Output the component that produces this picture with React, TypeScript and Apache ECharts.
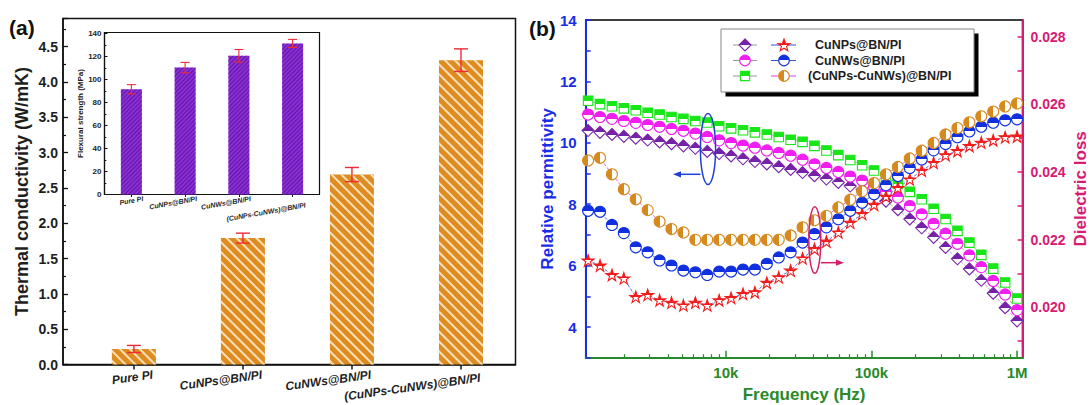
import React, { useEffect, useRef } from 'react';
import * as echarts from 'echarts';

// ---------------- Panel (a): thermal conductivity ----------------
const samples = ['Pure PI', 'CuNPs@BN/PI', 'CuNWs@BN/PI', '(CuNPs-CuNWs)@BN/PI'];
const thermalConductivity = [0.22, 1.79, 2.69, 4.31];
const thermalConductivityErr = [0.05, 0.07, 0.1, 0.16];

// inset: flexural strength (MPa)
const flexuralStrength = [91.6, 110.5, 120.7, 131.5];
const flexuralStrengthErr = [4, 4.5, 5.5, 3.5];

// ---------------- Panel (b): dielectric spectra ----------------
const frequencyHz = [
  1132, 1367, 1651, 1993, 2406, 2905, 3508, 4234, 5111, 6173, 7452, 8997, 10864,
  13117, 15833, 19119, 23082, 27867, 33651, 40616, 49044, 59215, 71498, 86317,
  104210, 125840, 151890, 183360, 221400, 267350, 322850, 389620, 470530, 568060,
  685810, 828310, 1000000,
];
const permittivityCuNPs = [
  10.4, 10.34, 10.27, 10.21, 10.15, 10.09, 10.03, 9.97, 9.9, 9.82, 9.72, 9.65, 9.57,
  9.48, 9.39, 9.31, 9.22, 9.13, 9.03, 8.93, 8.82, 8.71, 8.59, 8.47, 8.34, 8.1, 7.82,
  7.52, 7.23, 6.92, 6.59, 6.22, 5.89, 5.52, 5.1, 4.63, 4.2,
];
const permittivityCuNWs = [
  10.92, 10.84, 10.78, 10.71, 10.65, 10.58, 10.52, 10.45, 10.39, 10.3, 10.19, 10.08,
  9.99, 9.91, 9.84, 9.75, 9.67, 9.58, 9.45, 9.3, 9.18, 9.05, 8.9, 8.77, 8.58, 8.4,
  8.22, 7.94, 7.67, 7.36, 7.04, 6.71, 6.33, 5.95, 5.5, 5.06, 4.55,
];
const permittivityHybrid = [
  11.37, 11.26, 11.19, 11.12, 11.06, 10.98, 10.92, 10.84, 10.78, 10.71, 10.66, 10.54,
  10.47, 10.41, 10.34, 10.27, 10.19, 10.1, 10.03, 9.9, 9.75, 9.6, 9.44, 9.27, 9.1,
  8.88, 8.67, 8.4, 8.16, 7.85, 7.52, 7.13, 6.75, 6.35, 5.9, 5.45, 4.93,
];
const lossCuNPs = [
  0.02138, 0.02123, 0.02095, 0.02085, 0.0203, 0.02036, 0.0202, 0.02013, 0.02005,
  0.02013, 0.02005, 0.0202, 0.02027, 0.02039, 0.02044, 0.02072, 0.02088, 0.02108,
  0.02144, 0.02172, 0.02194, 0.02221, 0.0225, 0.02276, 0.02303, 0.02327, 0.02353,
  0.02378, 0.02404, 0.02427, 0.0245, 0.02462, 0.02477, 0.02487, 0.02494, 0.02503,
  0.02505,
];
const lossCuNWs = [
  0.02285, 0.02282, 0.02243, 0.02219, 0.02177, 0.02162, 0.02138, 0.02123, 0.02108,
  0.02103, 0.02095, 0.02105, 0.02105, 0.02111, 0.02111, 0.02128, 0.02147, 0.02162,
  0.02191, 0.02216, 0.02236, 0.0226, 0.02285, 0.02309, 0.02334, 0.02361, 0.02388,
  0.02412, 0.02437, 0.02464, 0.02483, 0.02503, 0.0252, 0.02534, 0.02546, 0.02553,
  0.02556,
];
const lossHybrid = [
  0.02434, 0.02442, 0.02393, 0.02349, 0.02319, 0.02287, 0.02253, 0.02231, 0.02221,
  0.02199, 0.02199, 0.02199, 0.02199, 0.02199, 0.02199, 0.02199, 0.02199, 0.02212,
  0.02236, 0.02257, 0.0227, 0.02295, 0.02318, 0.02343, 0.02367, 0.02393, 0.02415,
  0.0244, 0.02463, 0.02486, 0.02511, 0.0253, 0.02547, 0.02565, 0.02579, 0.02594,
  0.02603,
];

const freqMajorTicks = [10000, 100000, 1000000];
const freqTickLabels = ['10k', '100k', '1M'];
const freqMinorTicks = [
  2000, 3000, 4000, 5000, 6000, 7000, 8000, 9000,
  20000, 30000, 40000, 50000, 60000, 70000, 80000, 90000,
  200000, 300000, 400000, 500000, 600000, 700000, 800000, 900000,
];
const lossTickValues = [0.019, 0.02, 0.021, 0.022, 0.023, 0.024, 0.025, 0.026, 0.027, 0.028];
const lossLabelValues = [0.02, 0.022, 0.024, 0.026, 0.028];

const legendRows = ['CuNPs@BN/PI', 'CuNWs@BN/PI', '(CuNPs-CuNWs)@BN/PI'];

// ---------------- styling ----------------
const FONT = '"Liberation Sans", Arial, Helvetica, sans-serif';
const COL = {
  ink: '#1e1e1e',
  orange: '#de8b1f',
  violet: '#8a2fd6',
  err: '#ee2a36',
  blueAxis: '#1a2de6',
  pinkAxis: '#d81b72',
  green: '#2a8a2a',
  mDiamond: '#7622a8',
  mMagenta: '#f01ff0',
  mGreen: '#19e619',
  mRed: '#f21c1c',
  mBlue: '#1030e0',
  mOrange: '#d68a1e',
};
const STAR_PATH =
  'path://M50,2 L61.2,36 L97,36 L68,57 L79,92 L50,70.5 L21,92 L32,57 L3,36 L38.8,36 Z';

const half = (color: string, horizontal = false) =>
  new echarts.graphic.LinearGradient(0, 0, horizontal ? 1 : 0, horizontal ? 0 : 1, [
    { offset: 0, color },
    { offset: 0.5, color },
    { offset: 0.5, color: '#ffffff' },
    { offset: 1, color: '#ffffff' },
  ]);

const LABEL_SHIFT_A = 0.174;
const LABEL_SHIFT_INSET = 0.22;

function errorBars(cap: number, width: number) {
  return (_params: any, api: any) => {
    const x = api.value(0);
    const y = api.value(1);
    const e = api.value(2);
    const hi = api.coord([x, y + e]);
    const lo = api.coord([x, y - e]);
    const style = { stroke: COL.err, lineWidth: width, fill: 'none' };
    return {
      type: 'group',
      children: [
        { type: 'line', shape: { x1: hi[0], y1: hi[1], x2: lo[0], y2: lo[1] }, style },
        { type: 'line', shape: { x1: hi[0] - cap, y1: hi[1], x2: hi[0] + cap, y2: hi[1] }, style },
        { type: 'line', shape: { x1: lo[0] - cap, y1: lo[1], x2: lo[0] + cap, y2: lo[1] }, style },
      ],
    };
  };
}

function starPoints(cx: number, cy: number, r: number) {
  const pts: number[][] = [];
  for (let k = 0; k < 10; k++) {
    const rr = k % 2 === 0 ? r : r * 0.42;
    const a = -Math.PI / 2 + (k * Math.PI) / 5;
    pts.push([cx + rr * Math.cos(a), cy + rr * Math.sin(a)]);
  }
  return pts;
}

function legendGraphics() {
  const rowsY = [45, 60.5, 76];
  const c1 = 745;
  const c2 = 784;
  const els: any[] = [];
  els.push({ type: 'rect', shape: { x: 725.5, y: 33.5, width: 253, height: 63 }, style: { fill: '#000' }, z: 10 });
  els.push({ type: 'rect', shape: { x: 721, y: 29, width: 253, height: 63 }, style: { fill: '#fff', stroke: '#888', lineWidth: 1 }, z: 11 });
  const lineCols = [
    ['#999999', '#3550d0'],
    ['#999999', '#3550d0'],
    ['#999999', '#e040e0'],
  ];
  rowsY.forEach((y, r) => {
    els.push({ type: 'line', shape: { x1: 733, y1: y, x2: 757, y2: y }, style: { stroke: lineCols[r][0], lineWidth: 1 }, z: 12 });
    els.push({ type: 'line', shape: { x1: 771, y1: y, x2: 796, y2: y }, style: { stroke: lineCols[r][1], lineWidth: 1 }, z: 12 });
    els.push({
      type: 'text',
      style: {
        text: legendRows[r],
        x: r === 2 ? 808 : 815,
        y,
        verticalAlign: 'middle',
        fill: COL.ink,
        font: `bold 12.5px ${FONT}`,
      },
      z: 12,
    });
  });
  els.push({
    type: 'polygon',
    shape: { points: [[c1, rowsY[0] - 6], [c1 + 6, rowsY[0]], [c1, rowsY[0] + 6], [c1 - 6, rowsY[0]]] },
    style: { fill: half(COL.mDiamond), stroke: COL.mDiamond, lineWidth: 1.1 },
    z: 13,
  });
  els.push({
    type: 'polygon',
    shape: { points: starPoints(c2, rowsY[0] + 0.5, 6.5) },
    style: { fill: half(COL.mRed), stroke: COL.mRed, lineWidth: 1.1 },
    z: 13,
  });
  els.push({ type: 'circle', shape: { cx: c1, cy: rowsY[1], r: 5.3 }, style: { fill: half(COL.mMagenta), stroke: COL.mMagenta, lineWidth: 1.1 }, z: 13 });
  els.push({ type: 'circle', shape: { cx: c2, cy: rowsY[1], r: 5.3 }, style: { fill: half(COL.mBlue), stroke: COL.mBlue, lineWidth: 1.1 }, z: 13 });
  els.push({ type: 'rect', shape: { x: c1 - 4.6, y: rowsY[2] - 4.6, width: 9.2, height: 9.2 }, style: { fill: half(COL.mGreen), stroke: COL.mGreen, lineWidth: 1.1 }, z: 13 });
  els.push({ type: 'circle', shape: { cx: c2, cy: rowsY[2], r: 5.3 }, style: { fill: half(COL.mOrange, true), stroke: COL.mOrange, lineWidth: 1.1 }, z: 13 });
  return els;
}

function annotationGraphics() {
  const blue = '#1f3fd8';
  const pink = '#d4206a';
  return [
    { type: 'ellipse', shape: { cx: 708, cy: 149, rx: 7.6, ry: 35.5 }, style: { fill: 'none', stroke: blue, lineWidth: 1.5 }, z: 20 },
    { type: 'line', shape: { x1: 700.5, y1: 174.3, x2: 680, y2: 174.3 }, style: { stroke: blue, lineWidth: 1.5 }, z: 20 },
    { type: 'polygon', shape: { points: [[673, 174.3], [681, 171.2], [681, 177.4]] }, style: { fill: blue }, z: 20 },
    { type: 'ellipse', shape: { cx: 814.8, cy: 240, rx: 6, ry: 33.3 }, style: { fill: 'none', stroke: pink, lineWidth: 1.5 }, z: 20 },
    { type: 'line', shape: { x1: 820.8, y1: 262.7, x2: 837, y2: 262.7 }, style: { stroke: pink, lineWidth: 1.5 }, z: 20 },
    { type: 'polygon', shape: { points: [[844, 262.7], [836, 259.6], [836, 265.8]] }, style: { fill: pink }, z: 20 },
    { type: 'text', style: { text: '(a)', x: 9, y: 27, verticalAlign: 'middle', fill: '#111', font: `bold 21px ${FONT}` }, z: 20 },
    { type: 'text', style: { text: '(b)', x: 529, y: 28, verticalAlign: 'middle', fill: '#111', font: `bold 21px ${FONT}` }, z: 20 },
  ];
}

function buildOption(): any {
  const lineBase = (name: string, yIdx: number, values: number[]) => ({
    type: 'line',
    name,
    xAxisIndex: 2,
    yAxisIndex: yIdx,
    data: frequencyHz.map((f, i) => [f, values[i]]),
    symbolKeepAspect: true,
    z: 4,
    emphasis: { disabled: true },
  });

  const gridBase = { show: true, backgroundColor: 'transparent', containLabel: false, outerBoundsMode: 'none' };

  return {
    animation: false,
    backgroundColor: '#ffffff',
    textStyle: { fontFamily: FONT },
    grid: [
      { ...gridBase, left: 63, right: 1091 - 515.5, top: 18.5, bottom: 405 - 364.5, borderColor: '#111', borderWidth: 1.5 },
      { ...gridBase, left: 104.5, right: 1091 - 319.5, top: 32.5, bottom: 405 - 194.5, borderColor: '#111', borderWidth: 1.2 },
      { ...gridBase, left: 585.7, right: 1091 - 1022.5, top: 20, bottom: 405 - 357.7, borderColor: '#000', borderWidth: 1.5 },
    ],
    xAxis: [
      {
        gridIndex: 0,
        type: 'value',
        min: 0.35,
        max: 4.5,
        axisLine: { lineStyle: { color: '#111', width: 1.5 } },
        axisTick: { show: true, inside: false, length: 5, customValues: samples.map((_, i) => i + 1), lineStyle: { color: '#111', width: 1.5 } },
        splitLine: { show: false },
        axisLabel: {
          customValues: samples.map((_, i) => i + 1 + LABEL_SHIFT_A),
          rotate: 8,
          margin: 10,
          color: COL.ink,
          fontSize: 12,
          fontStyle: 'italic',
          fontWeight: 'bold',
          formatter: (v: number) => {
            const i = Math.round(v - LABEL_SHIFT_A) - 1;
            return i === 3 ? `{low|${samples[i]}}` : samples[i] ?? '';
          },
          rich: { low: { padding: [6, 0, 0, 0], fontSize: 12, fontStyle: 'italic', fontWeight: 'bold', color: COL.ink } },
        },
      },
      {
        gridIndex: 1,
        type: 'value',
        min: 0.5,
        max: 4.5,
        axisLine: { lineStyle: { color: '#111', width: 1.2 } },
        axisTick: { show: true, inside: false, length: 2.5, customValues: samples.map((_, i) => i + 1), lineStyle: { color: '#111' } },
        splitLine: { show: false },
        axisLabel: {
          customValues: samples.map((_, i) => i + 1 + LABEL_SHIFT_INSET),
          rotate: 10,
          margin: 4,
          color: COL.ink,
          fontSize: 7,
          fontStyle: 'italic',
          fontWeight: 'bold',
          formatter: (v: number) => {
            const i = Math.round(v - LABEL_SHIFT_INSET) - 1;
            return i === 3 ? `{low|${samples[i]}}` : samples[i] ?? '';
          },
          rich: { low: { padding: [13, 0, 0, 0], fontSize: 7, fontStyle: 'italic', fontWeight: 'bold', color: COL.ink } },
        },
      },
      {
        gridIndex: 2,
        type: 'log',
        logBase: 10,
        min: 1090,
        max: 1090000,
        position: 'bottom',
        axisLine: { lineStyle: { color: COL.green, width: 2 } },
        axisTick: { show: true, inside: true, length: 7, customValues: freqMajorTicks, lineStyle: { color: COL.green, width: 1.5 } },
        minorTick: { show: false },
        splitLine: { show: false },
        axisLabel: {
          customValues: freqMajorTicks,
          color: COL.green,
          fontSize: 15,
          fontWeight: 'bold',
          margin: 7,
          formatter: (v: number) => {
            const i = freqMajorTicks.findIndex((t) => Math.abs(t - v) / t < 1e-6);
            return i >= 0 ? freqTickLabels[i] : '';
          },
        },
        name: 'Frequency (Hz)',
        nameLocation: 'middle',
        nameGap: 28,
        nameTextStyle: { color: COL.green, fontSize: 17, fontWeight: 'bold' },
      },
      {
        gridIndex: 2,
        type: 'log',
        logBase: 10,
        min: 1090,
        max: 1090000,
        position: 'bottom',
        axisLine: { show: false },
        axisTick: { show: true, inside: true, length: 3.5, customValues: freqMinorTicks, lineStyle: { color: COL.green, width: 1.2 } },
        axisLabel: { show: false },
        splitLine: { show: false },
      },
    ],
    yAxis: [
      {
        gridIndex: 0,
        type: 'value',
        min: 0,
        max: 4.9,
        interval: 0.5,
        axisLine: { show: true, lineStyle: { color: '#111', width: 1.5 } },
        axisTick: { show: true, inside: true, length: 5, lineStyle: { color: '#111', width: 1.3 } },
        minorTick: { show: true, splitNumber: 2, length: 3, lineStyle: { color: '#111', width: 1.2 } },
        splitLine: { show: false },
        axisLabel: { color: COL.ink, fontSize: 14, fontWeight: 'bold', margin: 5, showMaxLabel: false, formatter: (v: number) => v.toFixed(1) },
        name: 'Thermal conductivity (W/mK)',
        nameLocation: 'middle',
        nameGap: 32,
        nameTextStyle: { color: COL.ink, fontSize: 18, fontWeight: 'bold' },
      },
      {
        gridIndex: 1,
        type: 'value',
        min: 0,
        max: 141,
        interval: 20,
        axisLine: { show: true, lineStyle: { color: '#111', width: 1.2 } },
        axisTick: { show: true, inside: true, length: 3, lineStyle: { color: '#111' } },
        minorTick: { show: true, splitNumber: 2, length: 1.8, lineStyle: { color: '#111' } },
        splitLine: { show: false },
        axisLabel: { color: COL.ink, fontSize: 8, fontWeight: 'bold', margin: 3, showMaxLabel: false },
        name: 'Flexural strength (MPa)',
        nameLocation: 'middle',
        nameGap: 19,
        nameTextStyle: { color: COL.ink, fontSize: 8, fontWeight: 'bold' },
      },
      {
        gridIndex: 2,
        type: 'value',
        min: 3,
        max: 14,
        interval: 1,
        position: 'left',
        axisLine: { show: true, lineStyle: { color: COL.blueAxis, width: 2 } },
        axisTick: { show: true, inside: true, length: 5, lineStyle: { color: COL.blueAxis, width: 1.5 } },
        splitLine: { show: false },
        axisLabel: {
          color: COL.blueAxis,
          fontSize: 15,
          fontWeight: 'bold',
          margin: 9,
          formatter: (v: number) => (Math.round(v) % 2 === 0 ? String(Math.round(v)) : ''),
        },
        name: 'Relative permittivity',
        nameLocation: 'middle',
        nameGap: 24,
        nameTextStyle: { color: COL.blueAxis, fontSize: 17, fontWeight: 'bold' },
      },
      {
        gridIndex: 2,
        type: 'value',
        min: 0.0185,
        max: 0.0285,
        position: 'right',
        axisLine: { show: true, lineStyle: { color: COL.pinkAxis, width: 2 } },
        axisTick: { show: true, inside: true, length: 5, customValues: lossTickValues, lineStyle: { color: COL.pinkAxis, width: 1.5 } },
        splitLine: { show: false },
        axisLabel: {
          customValues: lossLabelValues,
          color: COL.pinkAxis,
          fontSize: 14,
          fontWeight: 'bold',
          margin: 8,
          formatter: (v: number) => v.toFixed(3),
        },
        name: 'Dielectric loss',
        nameLocation: 'middle',
        nameGap: 49,
        nameTextStyle: { color: COL.pinkAxis, fontSize: 17, fontWeight: 'bold' },
      },
    ],
    series: [
      {
        type: 'bar',
        xAxisIndex: 0,
        yAxisIndex: 0,
        barWidth: 44,
        data: thermalConductivity.map((v, i) => [i + 1, v]),
        itemStyle: {
          color: COL.orange,
          decal: { symbol: 'rect', symbolSize: 1, color: 'rgba(255,240,215,0.85)', dashArrayX: [1, 0], dashArrayY: [1.2, 5], rotation: Math.PI / 4 },
        },
        emphasis: { disabled: true },
        z: 2,
      },
      {
        type: 'custom',
        coordinateSystem: 'cartesian2d',
        xAxisIndex: 0,
        yAxisIndex: 0,
        data: thermalConductivity.map((v, i) => [i + 1, v, thermalConductivityErr[i]]),
        encode: { x: 0, y: 1 },
        renderItem: errorBars(7, 1.4),
        z: 3,
      },
      {
        type: 'bar',
        xAxisIndex: 1,
        yAxisIndex: 1,
        barWidth: 21,
        data: flexuralStrength.map((v, i) => [i + 1, v]),
        itemStyle: {
          color: COL.violet,
          decal: { symbol: 'rect', symbolSize: 1, color: 'rgba(80,10,140,0.7)', dashArrayX: [1, 0], dashArrayY: [0.8, 1.7], rotation: -Math.PI / 4 },
        },
        emphasis: { disabled: true },
        z: 2,
      },
      {
        type: 'custom',
        coordinateSystem: 'cartesian2d',
        xAxisIndex: 1,
        yAxisIndex: 1,
        data: flexuralStrength.map((v, i) => [i + 1, v, flexuralStrengthErr[i]]),
        encode: { x: 0, y: 1 },
        renderItem: errorBars(4.5, 1.1),
        z: 3,
      },
      {
        ...lineBase('CuNPs@BN/PI permittivity', 2, permittivityCuNPs),
        symbol: 'diamond',
        symbolSize: 12,
        itemStyle: { color: half(COL.mDiamond), borderColor: COL.mDiamond, borderWidth: 1.1 },
        lineStyle: { color: '#9a9a9a', width: 0.8, type: 'dashed' },
      },
      {
        ...lineBase('CuNWs@BN/PI permittivity', 2, permittivityCuNWs),
        symbol: 'circle',
        symbolSize: 11,
        itemStyle: { color: half(COL.mMagenta), borderColor: COL.mMagenta, borderWidth: 1.1 },
        lineStyle: { color: '#9a9a9a', width: 0.8, type: 'dashed' },
      },
      {
        ...lineBase('(CuNPs-CuNWs)@BN/PI permittivity', 2, permittivityHybrid),
        symbol: 'rect',
        symbolSize: 9.5,
        itemStyle: { color: half(COL.mGreen), borderColor: COL.mGreen, borderWidth: 1.1 },
        lineStyle: { color: '#9a9a9a', width: 0.8, type: 'dashed' },
      },
      {
        ...lineBase('CuNPs@BN/PI loss', 3, lossCuNPs),
        symbol: STAR_PATH,
        symbolSize: 12,
        itemStyle: { color: half(COL.mRed), borderColor: COL.mRed, borderWidth: 1.1 },
        lineStyle: { color: '#3550d0', width: 0.8, type: 'dashed' },
      },
      {
        ...lineBase('CuNWs@BN/PI loss', 3, lossCuNWs),
        symbol: 'circle',
        symbolSize: 11,
        itemStyle: { color: half(COL.mBlue), borderColor: COL.mBlue, borderWidth: 1.1 },
        lineStyle: { color: '#3550d0', width: 0.8, type: 'dashed' },
      },
      {
        ...lineBase('(CuNPs-CuNWs)@BN/PI loss', 3, lossHybrid),
        symbol: 'circle',
        symbolSize: 11,
        itemStyle: { color: half(COL.mOrange, true), borderColor: COL.mOrange, borderWidth: 1.1 },
        lineStyle: { color: '#e040e0', width: 0.8, type: 'dashed' },
      },
    ],
    graphic: [...legendGraphics(), ...annotationGraphics()],
  };
}

export default function App() {
  const ref = useRef<HTMLDivElement>(null);
  useEffect(() => {
    if (!ref.current) return;
    const chart = echarts.init(ref.current, undefined, { renderer: 'svg' });
    chart.setOption(buildOption());
    return () => chart.dispose();
  }, []);
  return (
    <div
      ref={ref}
      style={{ position: 'fixed', left: 0, top: 0, width: 1091, height: 405, background: '#fff' }}
    />
  );
}
